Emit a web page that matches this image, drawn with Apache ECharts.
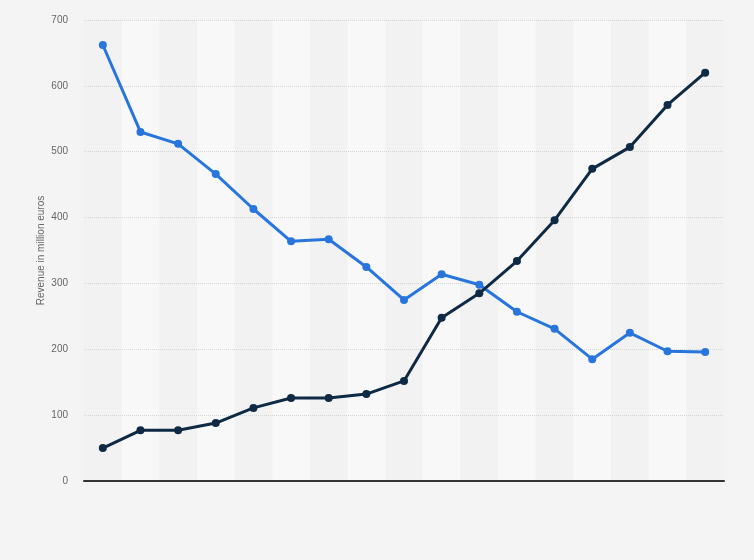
<!DOCTYPE html>
<html><head><meta charset="utf-8">
<script src="https://cdn.jsdelivr.net/npm/echarts@6/dist/echarts.min.js"></script>
<style>html,body{margin:0;padding:0;background:#f4f4f4;}#c{width:754px;height:560px;}</style>
</head><body><div id="c"></div>
<script>
var categories = ['1','2','3','4','5','6','7','8','9','10','11','12','13','14','15','16','17'];
var seriesBlue = [662, 530, 512, 466, 413, 364, 367, 325, 275, 314, 298, 257, 231, 185, 225, 197, 196];
var seriesDark = [50, 77, 77, 88, 111, 126, 126, 132, 152, 248, 285, 334, 396, 474, 507, 571, 620];
var yTicks = [0, 100, 200, 300, 400, 500, 600, 700];

var chart = echarts.init(document.getElementById('c'));
chart.setOption({
  backgroundColor: '#f4f4f4',
  animation: false,
  grid: {left: 84, right: 30, top: 20, bottom: 79},
  xAxis: [{
    type: 'category', data: categories, boundaryGap: true, z: 0,
    axisLine: {show: false},
    axisTick: {show: false}, axisLabel: {show: false},
    splitArea: {show: true, areaStyle: {color: ['#f2f2f2', '#f8f8f8']}}
  }, {
    type: 'category', data: categories, position: 'bottom', z: 3,
    axisLine: {show: true, lineStyle: {color: '#333', width: 2}},
    axisTick: {show: false}, axisLabel: {show: false}, splitLine: {show: false}
  }],
  yAxis: {
    type: 'value', min: 0, max: 700, interval: 100, z: 1,
    name: 'Revenue in million euros', nameLocation: 'middle', nameGap: 38,
    nameMoveOverlap: false,
    nameTextStyle: {color: '#666', fontSize: 10, fontFamily: 'Arial, Liberation Sans'},
    axisLine: {show: false}, axisTick: {show: false},
    axisLabel: {color: '#666', fontSize: 10, margin: 16, fontFamily: 'Arial, Liberation Sans',
      formatter: function(v){ return yTicks.indexOf(v) >= 0 ? String(v) : ''; }},
    splitLine: {lineStyle: {color: '#d6d6d6', type: 'dotted', width: 1}}
  },
  series: [
    {type: 'line', data: seriesBlue, symbol: 'circle', symbolSize: 8, z: 4,
      lineStyle: {color: '#2876dd', width: 3}, itemStyle: {color: '#2876dd'}},
    {type: 'line', data: seriesDark, symbol: 'circle', symbolSize: 8, z: 5,
      lineStyle: {color: '#0f2a44', width: 3}, itemStyle: {color: '#0f2a44'}}
  ]
});
</script></body></html>
